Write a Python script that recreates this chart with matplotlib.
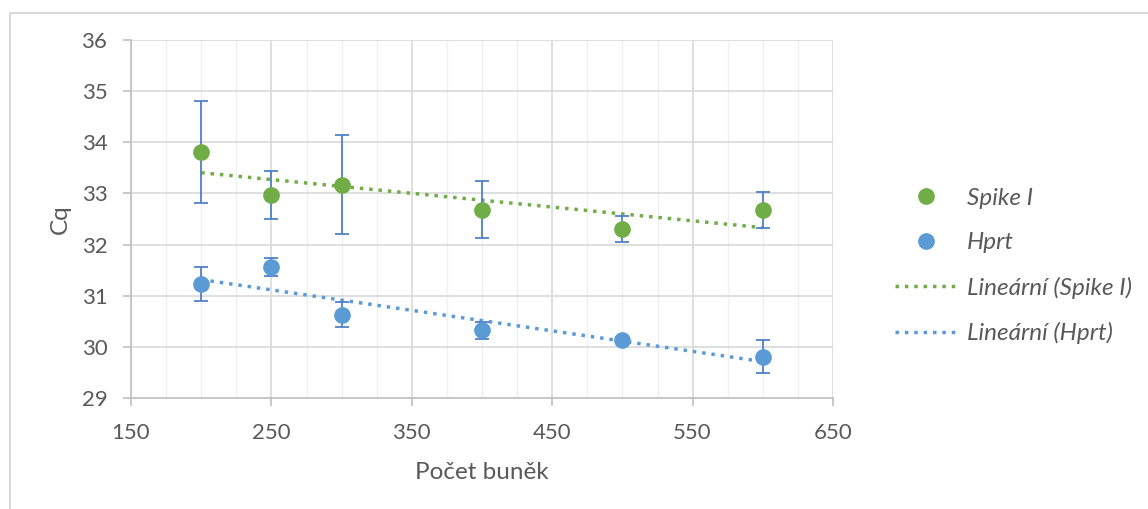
import matplotlib.pyplot as plt
import numpy as np
from matplotlib.patches import Rectangle
from matplotlib.ticker import MultipleLocator

plt.rcParams['font.family'] = ['Lato', 'DejaVu Sans']

# Data
cells = [200, 250, 300, 400, 500, 600]
spike_cq = [33.81, 32.97, 33.17, 32.68, 32.31, 32.67]
spike_err = [1.0, 0.47, 0.97, 0.56, 0.25, 0.35]
hprt_cq = [31.23, 31.56, 30.63, 30.32, 30.13, 29.81]
hprt_err = [0.33, 0.17, 0.24, 0.17, 0.06, 0.33]
x_ticks = [150, 250, 350, 450, 550, 650]

green = '#70AD47'
blue = '#5B9BD5'
err_color = '#4F81C7'
text_color = '#595959'

fig = plt.figure(figsize=(11.48, 5.09), dpi=100)
ax = fig.add_axes([131 / 1148, 1 - 398 / 509, (833 - 131) / 1148, (398 - 40) / 509])

# outer chart border
fig.patches.append(Rectangle((10 / 1148, -0.01), 1.0, 1 - 13 / 509 + 0.01,
                             transform=fig.transFigure, fill=False,
                             edgecolor='#D9D9D9', lw=1.5))

# error bars
ax.errorbar(cells, spike_cq, yerr=spike_err, fmt='none', ecolor=err_color,
            elinewidth=1.3, capsize=5, capthick=1.3, zorder=3)
ax.errorbar(cells, hprt_cq, yerr=hprt_err, fmt='none', ecolor=err_color,
            elinewidth=1.3, capsize=5, capthick=1.3, zorder=3)

# points
ax.plot(cells, spike_cq, 'o', color=green, ms=11, label='Spike I', zorder=4)
ax.plot(cells, hprt_cq, 'o', color=blue, ms=11, label='Hprt', zorder=4)

# linear trend lines
xs = np.array([min(cells), max(cells)])
k1, q1 = np.polyfit(cells, spike_cq, 1)
k2, q2 = np.polyfit(cells, hprt_cq, 1)
ax.plot(xs, k1 * xs + q1, color=green, lw=2.5, ls=(0, (1, 1.7)),
        label='Lineární (Spike I)', zorder=2)
ax.plot(xs, k2 * xs + q2, color=blue, lw=2.5, ls=(0, (1, 1.7)),
        label='Lineární (Hprt)', zorder=2)

ax.set_xlim(150, 650)
ax.set_ylim(29, 36)
ax.set_xticks(x_ticks)
ax.xaxis.set_minor_locator(MultipleLocator(25))
ax.yaxis.set_major_locator(MultipleLocator(1))

ax.grid(which='major', color='#D9D9D9', lw=1.2)
ax.grid(which='minor', axis='x', color='#F0F0F0', lw=1.0)
ax.set_axisbelow(True)

for s in ['top', 'right']:
    ax.spines[s].set_visible(False)
for s in ['left', 'bottom']:
    ax.spines[s].set_color('#BFBFBF')
    ax.spines[s].set_linewidth(1.2)

ax.tick_params(which='major', colors='#BFBFBF', labelcolor=text_color,
               labelsize=16, length=6, width=1.2)
ax.tick_params(which='minor', length=0)
ax.tick_params(axis='x', pad=12)
ax.tick_params(axis='y', pad=11)

ax.set_xlabel('Počet buněk', fontsize=17.5, color=text_color, labelpad=14)
ax.set_ylabel('Cq', fontsize=17.5, color=text_color, labelpad=8)

leg = fig.legend(loc='center left', bbox_to_anchor=(873 / 1148, 1 - 266 / 509),
                 frameon=False, fontsize=17.5, handlelength=2.6,
                 handletextpad=0.37, labelspacing=0.97)
for t in leg.get_texts():
    t.set_color(text_color)
    t.set_style('italic')

plt.savefig('out.png', dpi=100)
